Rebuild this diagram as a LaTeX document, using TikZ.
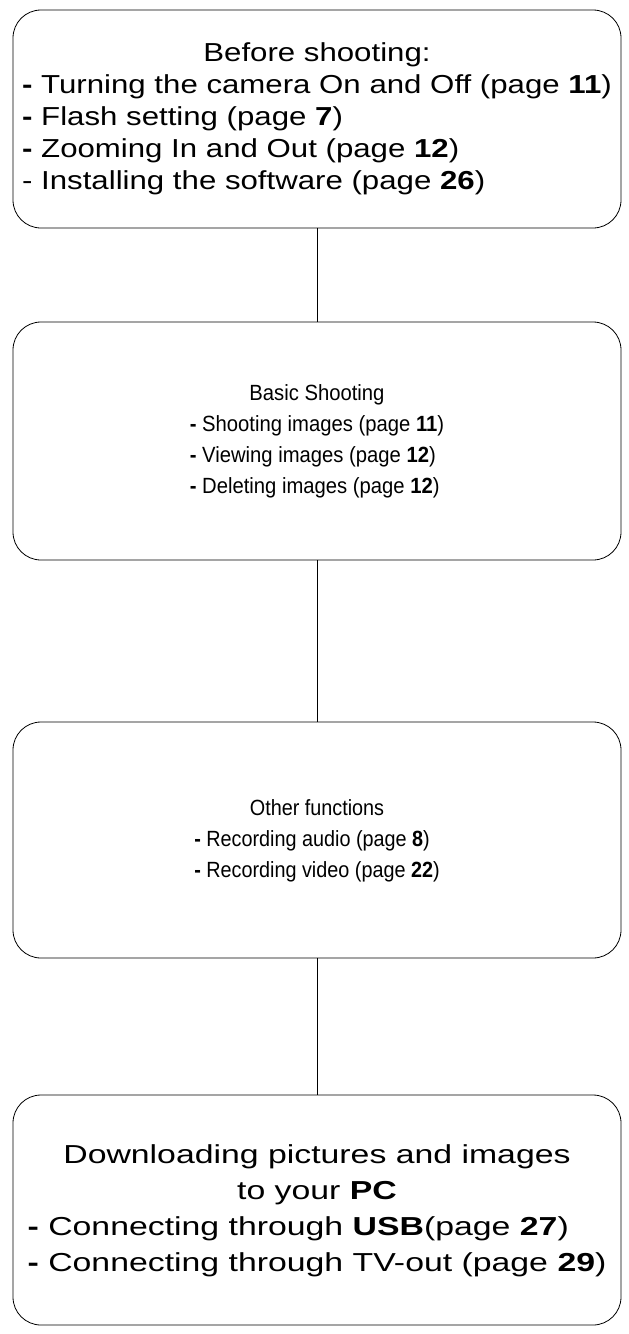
\documentclass[tikz,border=0pt]{standalone}
\usepackage{fontspec}
\setmainfont{Liberation Sans}
\begin{document}
\begin{tikzpicture}[x=1pt,y=-1pt,
    stage/.style={draw, thick, rounded corners=28pt, minimum width=608pt, inner sep=0pt}]
    \useasboundingbox (0,0) rectangle (629,1334);
    % Boxes
    \node[stage, minimum height=218pt, font=\fontsize{26}{32}\selectfont] (shoot) at (317,119) {\scalebox{1.2}[1]{\begin{tabular}{@{}l@{}}
      \multicolumn{1}{c}{Before shooting:}\\
      \textbf{-} Turning the camera On and Off (page \textbf{11})\\
      \textbf{-} Flash setting (page \textbf{7})\\
      \textbf{-} Zooming In and Out (page \textbf{12})\\
      - Installing the software (page \textbf{26})
    \end{tabular}}};
    \node[stage, minimum height=238pt, font=\fontsize{22}{31}\selectfont] (basic) at (317,441) {\scalebox{0.92}[1]{\begin{tabular}{@{}l@{}}
      \multicolumn{1}{c}{Basic Shooting}\\
      \textbf{-} Shooting images (page \textbf{11})\\
      \textbf{-} Viewing images (page \textbf{12})\\
      \textbf{-} Deleting images (page \textbf{12})
    \end{tabular}}};
    \node[stage, minimum height=236pt, font=\fontsize{22}{31}\selectfont] (other) at (317,840) {\scalebox{0.9}[1]{\begin{tabular}{@{}l@{}}
      \multicolumn{1}{c}{Other functions}\\
      \textbf{-} Recording audio (page \textbf{8})\\
      \textbf{-} Recording video (page \textbf{22})
    \end{tabular}}};
    \node[stage, minimum height=230pt, font=\fontsize{26}{36}\selectfont] (download) at (317,1210) {\scalebox{1.3}[1]{\begin{tabular}{@{}l@{}}
      \multicolumn{1}{c}{Downloading pictures and images}\\
      \multicolumn{1}{c}{to your \textbf{PC}}\\
      \textbf{-} Connecting through \textbf{USB}(page \textbf{27})\\
      \textbf{-} Connecting through TV-out (page \textbf{29})
    \end{tabular}}};
    % Connectors
    \draw[thick] (shoot) -- (basic);
    \draw[thick] (basic) -- (other);
    \draw[thick] (other) -- (download);
\end{tikzpicture}
\end{document}
